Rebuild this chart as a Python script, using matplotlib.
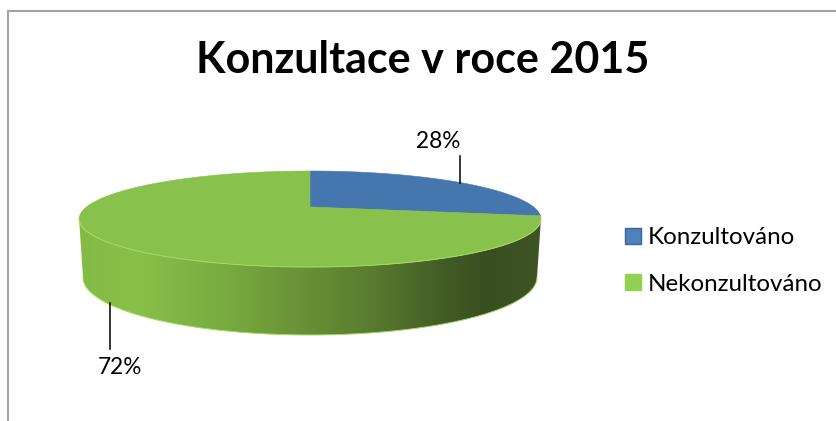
from __future__ import annotations

import numpy as np
import matplotlib

matplotlib.use("Agg")
import matplotlib.pyplot as plt
from matplotlib.colors import LinearSegmentedColormap
from matplotlib.patches import Patch, Polygon

TITLE = "Konzultace v roce 2015"
CATEGORIES = ["Konzultováno", "Nekonzultováno"]
SHARES = [28, 72]
LABELS = ["28%", "72%"]

TOP_COLORS = ["#4676AE", "#88C14B"]
LEGEND_COLORS = ["#4F81BD", "#92D050"]
LEGEND_EDGES = ["#3A659A", "#92D050"]

CX = 310.0
FAR_Y = 267.0  # front edge of the top face
HALF_W = 223.6
PERSP = 0.25
APEX_H = 60.0
SIDE_BOTTOM = 335.0


def top_point(theta):
    s = np.sin(theta)
    x = CX + HALF_W * np.cos(theta) / (1 + PERSP * s)
    y = FAR_Y - APEX_H * (1 + s) / (1 + PERSP * s)
    return x, y


def bottom_point(theta):
    s = np.sin(theta)
    x = CX + 0.983 * HALF_W * np.cos(theta) / (1 + PERSP * s)
    y = SIDE_BOTTOM - 1.2 * APEX_H * (1 + s) / (1 + PERSP * s)
    return x, y


def wedge(start, end):
    th = np.linspace(start, end, 200)
    x, y = top_point(th)
    # apex of the slice is the projected circle centre
    return np.column_stack([np.r_[CX, x], np.r_[FAR_Y - APEX_H, y]])


fig = plt.figure(figsize=(8.37, 4.21), dpi=100)
ax = fig.add_axes([0, 0, 1, 1])
plt.rcParams["font.family"] = ["Lato", "DejaVu Sans"]

# frame, only top and left are inside the crop
ax.plot([8.5, 8.5], [421, 10.5], color="#A3A3A3", lw=1.5)
ax.plot([8.5, 837], [10.5, 10.5], color="#A3A3A3", lw=1.5)

# side of the pie
front = np.linspace(np.arcsin(-PERSP), -np.pi - np.arcsin(-PERSP), 300)
tx, ty = top_point(front)
bx, by = bottom_point(front)
side_xy = np.column_stack([np.r_[tx, bx[::-1]], np.r_[ty, by[::-1]]])
side = Polygon(side_xy, closed=True, transform=ax.transData, fc="none", ec="none")
ax.add_patch(side)

side_cmap = LinearSegmentedColormap.from_list(
    "side",
    [
        (0.00, "#84BB47"),
        (0.13, "#88C049"),
        (0.30, "#7AAD41"),
        (0.45, "#6C9638"),
        (0.62, "#5A7E30"),
        (0.80, "#425A25"),
        (0.88, "#3A4F20"),
        (1.00, "#3E5423"),
    ],
)
grad = np.linspace(0, 1, 512).reshape(1, -1)
im = ax.imshow(grad, cmap=side_cmap, extent=[79, 541, 340, 210], aspect="auto", zorder=2)
im.set_clip_path(side)
ax.plot(bx, by, color="#A5DB63", lw=0.7, zorder=3)

# top face, slices run clockwise from twelve o'clock
angle = np.pi / 2
total = sum(SHARES)
for share, color in zip(SHARES, TOP_COLORS):
    sweep = 2 * np.pi * share / total
    ax.add_patch(Polygon(wedge(angle, angle - sweep), closed=True, fc=color, ec=color, lw=0.4, zorder=4))
    angle -= sweep
ax.plot(tx, ty, color="#A5DB63", lw=0.7, zorder=5)

# data labels with leader lines
ax.plot([460, 460], [156, 183], color="black", lw=1.1, zorder=6)
ax.plot([110, 110], [303, 349], color="black", lw=1.1, zorder=6)
ax.text(438, 142, LABELS[0], ha="center", va="center", fontsize=16.3, color="black")
ax.text(120, 367, LABELS[1], ha="center", va="center", fontsize=16.3, color="black")

ax.text(423, 60, TITLE, ha="center", va="center", fontsize=31, fontweight="bold", color="black")

handles = [Patch(fc=c, ec=e, lw=1.0) for c, e in zip(LEGEND_COLORS, LEGEND_EDGES)]
ax.legend(
    handles,
    CATEGORIES,
    loc="center left",
    bbox_to_anchor=(625 / 837, 1 - 261 / 421),
    frameon=False,
    fontsize=17.4,
    handlelength=0.66,
    handleheight=0.66,
    handletextpad=0.29,
    labelspacing=1.06,
    borderpad=0,
    borderaxespad=0,
)

ax.set_xlim(0, 837)
ax.set_ylim(421, 0)
ax.axis("off")
fig.savefig("out.png", dpi=100)
